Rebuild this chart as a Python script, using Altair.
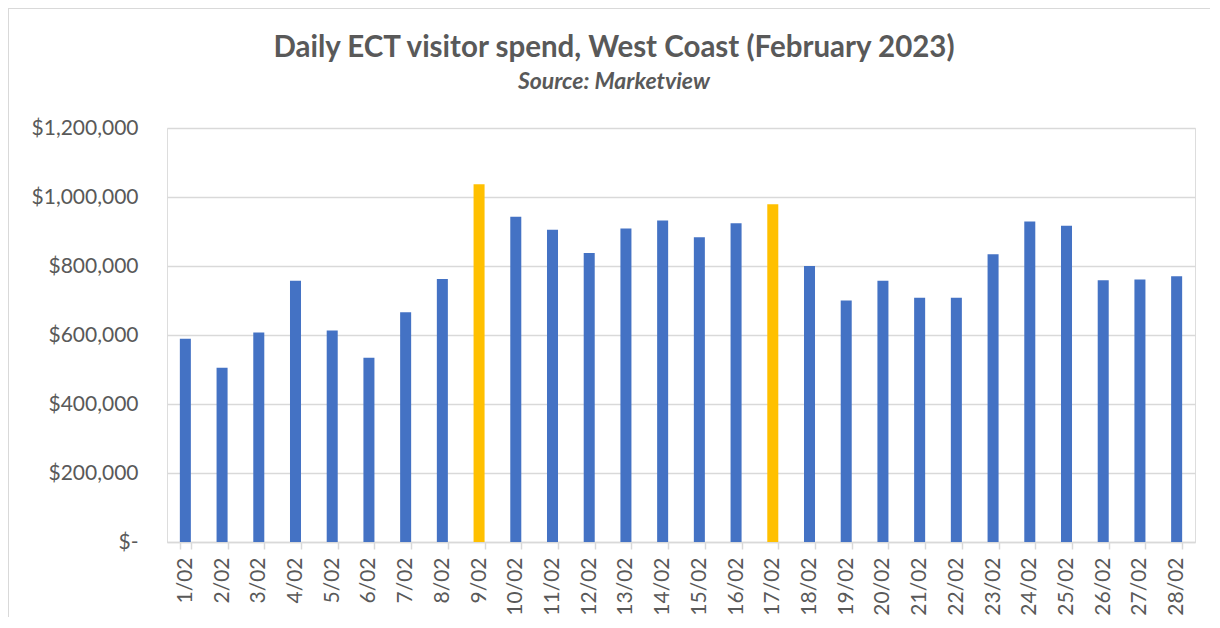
import altair as alt
import pandas as pd

days = [f"{d}/02" for d in range(1, 29)]
spend = [589000, 505000, 607000, 757000, 613000, 534000, 666000, 762000,
         1037000, 943000, 905000, 838000, 909000, 932000, 883000, 924000,
         979000, 800000, 700000, 757000, 708000, 708000, 834000, 929000,
         917000, 759000, 761000, 770000]
highlight_days = ["9/02", "17/02"]

df = pd.DataFrame({"day": days, "spend": spend})

FONT = "Lato"
GREY = "#595959"
GRID = "#D9D9D9"

bars = alt.Chart(df).mark_bar().encode(
    x=alt.X("day:N", sort=days, title=None,
            scale=alt.Scale(paddingInner=0.7, paddingOuter=0.35),
            axis=alt.Axis(labelAngle=-90, labelAlign="right", labelBaseline="middle",
                          labelFontSize=21, labelColor=GREY, labelFont=FONT,
                          labelPadding=8, tickBand="extent", ticks=True,
                          tickSize=7, tickColor=GRID, tickWidth=1.5,
                          domainColor=GRID, domainWidth=1.5, grid=False)),
    y=alt.Y("spend:Q", title=None,
            scale=alt.Scale(domain=[0, 1200000], nice=False),
            axis=alt.Axis(values=[0, 200000, 400000, 600000, 800000, 1000000, 1200000],
                          labelExpr="datum.value == 0 ? '$-' : '$' + format(datum.value, ',')",
                          labelFontSize=21, labelColor=GREY, labelFont=FONT,
                          labelPadding=29, ticks=False, domain=False,
                          grid=True, gridColor=GRID, gridWidth=1.5)),
    color=alt.condition(alt.FieldOneOfPredicate(field="day", oneOf=highlight_days),
                        alt.value("#FFC000"), alt.value("#4472C4")),
)

frame = alt.Chart(pd.DataFrame({"k": [0]})).mark_rect(
    fill="transparent", stroke=GRID, strokeWidth=2
).encode(
    x=alt.value(-159), x2=alt.value(1080), y=alt.value(-120), y2=alt.value(540)
)

chart = alt.layer(frame, bars).properties(
    width=1028,
    height=414,
    autosize=alt.AutoSizeParams(type="none"),
    padding={"left": 159, "top": 120, "right": 15, "bottom": 75},
    title=alt.TitleParams(
        text="Daily ECT visitor spend, West Coast (February 2023)",
        subtitle="Source: Marketview",
        font=FONT, fontSize=29.5, fontWeight="bold", color=GREY,
        subtitleFont=FONT, subtitleFontSize=23, subtitleFontWeight="bold",
        subtitleFontStyle="italic", subtitleColor=GREY, subtitlePadding=8,
        anchor="middle", dx=-67, dy=118, offset=30,
    ),
).configure_view(stroke=None).configure(background="white")

chart.save("out.html", embed_options={"renderer": "svg", "actions": False})
